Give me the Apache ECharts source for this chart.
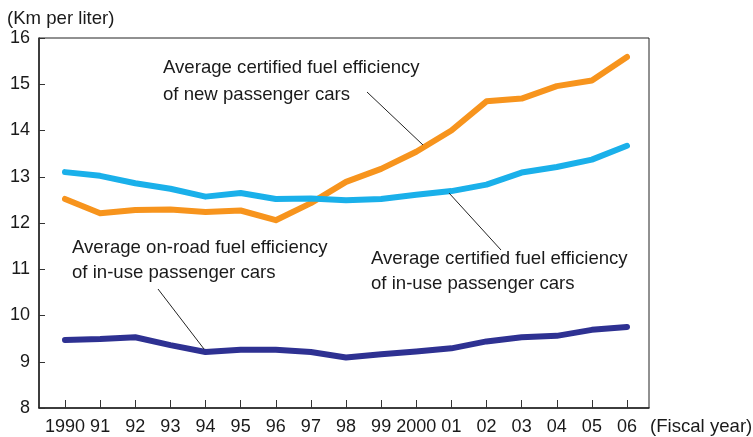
<!DOCTYPE html>
<html>
<head>
<meta charset="utf-8">
<script src="https://cdn.jsdelivr.net/npm/echarts@6/dist/echarts.min.js"></script>
<style>
  html, body { margin: 0; padding: 0; background: #fff; }
  #chart { width: 753px; height: 437px; }
</style>
</head>
<body>
<div id="chart"></div>
<script>
const years = ['1990', '91', '92', '93', '94', '95', '96', '97', '98', '99', '2000', '01', '02', '03', '04', '05', '06']
const newCertified = [12.52, 12.21, 12.28, 12.29, 12.24, 12.27, 12.06, 12.43, 12.89, 13.17, 13.54, 14.0, 14.63, 14.69, 14.96, 15.08, 15.59]
const inUseCertified = [13.1, 13.02, 12.86, 12.74, 12.57, 12.65, 12.52, 12.53, 12.49, 12.52, 12.61, 12.69, 12.83, 13.09, 13.21, 13.37, 13.67]
const onRoad = [9.47, 9.49, 9.53, 9.36, 9.21, 9.26, 9.26, 9.21, 9.09, 9.16, 9.22, 9.29, 9.44, 9.53, 9.56, 9.69, 9.75]
const yTicks = [8, 9, 10, 11, 12, 13, 14, 15, 16]

const font = '"Liberation Sans", Arial, sans-serif'
const ink = '#1a1a1a'
const fs = 18
const noteFs = 18.6

const chart = echarts.init(document.getElementById('chart'))

const lineSeries = (name, data, color) => ({
  name,
  type: 'line',
  xAxisIndex: 1,
  yAxisIndex: 1,
  data,
  symbol: 'none',
  lineStyle: { color, width: 6, cap: 'round', join: 'round' },
  z: 3
})

const label = (text, x, y) => ({
  type: 'text',
  style: { text, x, y, font: noteFs + 'px ' + font, fill: ink, textVerticalAlign: 'middle' }
})

const leader = (x1, y1, x2, y2) => ({
  type: 'line',
  shape: { x1, y1, x2, y2 },
  style: { stroke: '#222', lineWidth: 1 },
  z: 10
})

chart.setOption({
  animation: false,
  grid: [
    // frame
    { left: 39, right: 104, top: 38, bottom: 29, show: true, borderColor: '#222', borderWidth: 1 },
    // data area, categories sit on ticks
    { left: 65, right: 126, top: 38, bottom: 29 }
  ],
  xAxis: [{
    gridIndex: 0,
    type: 'value',
    min: 0,
    max: 1,
    axisLine: { show: true, lineStyle: { color: '#222', width: 1.5 } },
    axisTick: { show: false },
    axisLabel: { show: false },
    splitLine: { show: false }
  }, {
    gridIndex: 1,
    type: 'category',
    data: years,
    boundaryGap: false,
    axisLine: { show: false },
    axisTick: { show: true, inside: true, length: 8, lineStyle: { color: '#333' } },
    axisLabel: { interval: 0, fontSize: fs, fontFamily: font, color: ink, margin: 10 },
    splitLine: { show: false }
  }],
  yAxis: [{
    gridIndex: 0,
    type: 'value',
    min: yTicks[0],
    max: yTicks[yTicks.length - 1],
    interval: 1,
    axisLine: { show: true, lineStyle: { color: '#222', width: 1.5 } },
    axisTick: { show: true, inside: true, length: 6, lineStyle: { color: '#333' } },
    axisLabel: { fontSize: fs, fontFamily: font, color: ink, margin: 9 },
    splitLine: { show: false }
  }, {
    gridIndex: 1,
    type: 'value',
    min: yTicks[0],
    max: yTicks[yTicks.length - 1],
    show: false,
    splitLine: { show: false }
  }],
  series: [
    lineSeries('Average certified fuel efficiency of new passenger cars', newCertified, '#f7941d'),
    lineSeries('Average certified fuel efficiency of in-use passenger cars', inUseCertified, '#1ab0ea'),
    lineSeries('Average on-road fuel efficiency of in-use passenger cars', onRoad, '#2e3192')
  ],
  graphic: [
    label('(Km per liter)', 7, 19),
    label('(Fiscal year)', 650, 427),
    label('Average certified fuel efficiency', 163, 68),
    label('of new passenger cars', 163, 95),
    label('Average on-road fuel efficiency', 72, 248),
    label('of in-use passenger cars', 72, 273),
    label('Average certified fuel efficiency', 371, 259),
    label('of in-use passenger cars', 371, 284),
    leader(367, 92, 423, 145),
    leader(449, 193, 501, 250),
    leader(158, 289, 204, 349)
  ]
})
</script>
</body>
</html>
